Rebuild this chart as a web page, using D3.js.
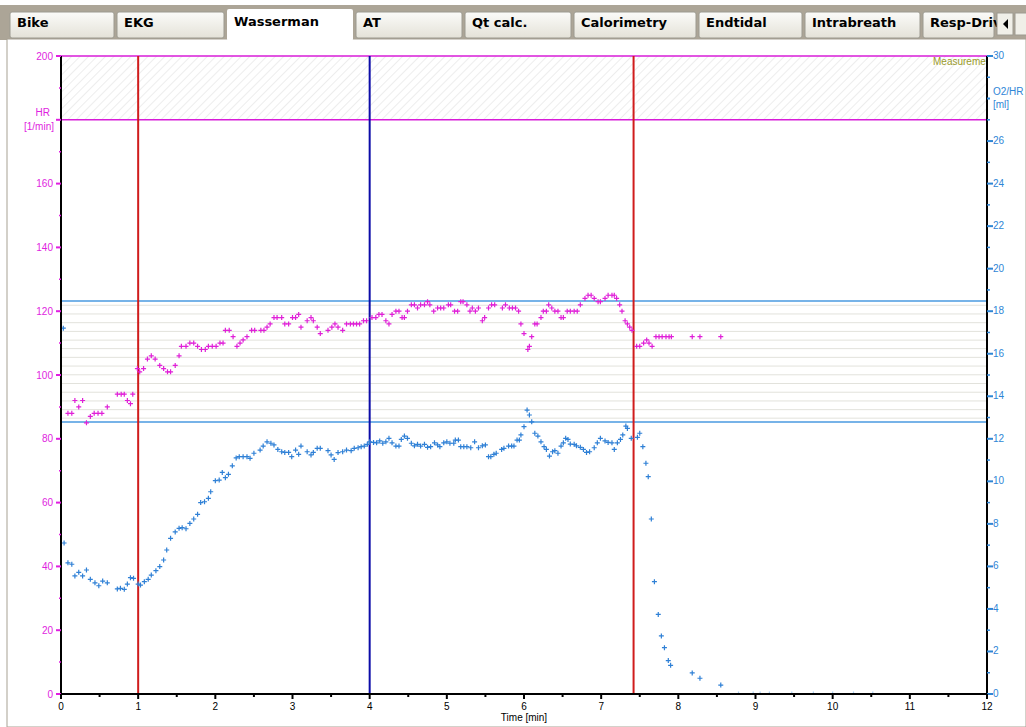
<!DOCTYPE html>
<html lang="en">
<head>
<meta charset="UTF-8">
<title>Wasserman</title>
<script src="https://d3js.org/d3.v7.min.js"></script>
<style>
    body { margin: 0; background: #fff; }
    svg text { font-family: "Liberation Sans", Arial, sans-serif; }
    .tab text { font-family: "DejaVu Sans", sans-serif; font-weight: bold; font-size: 13px; fill: #000; }
    .tick-l { fill: #e01ee0; font-size: 10px; }
    .tick-r { fill: #2f86d6; font-size: 10px; }
    .tick-b { fill: #000; font-size: 10px; }
</style>
</head>
<body>
<svg id="chart" width="1026" height="727"></svg>
<script>
// tabs of the program window
const tabNames = ["Bike", "EKG", "Wasserman", "AT", "Qt calc.", "Calorimetry", "Endtidal", "Intrabreath", "Resp-Driv"];
const tabEdges = [10, 117, 227, 356, 465, 574, 699, 805, 923, 997];
const activeTab = "Wasserman";

// heart rate [1/min] over time [min]
const hrTime = [0.09,0.14,0.18,0.23,0.28,0.33,0.38,0.43,0.48,0.53,0.60,0.73,0.78,0.82,0.86,0.90,0.93,0.99,1.02,1.07,1.12,1.17,1.22,1.28,1.33,1.38,1.42,1.48,1.53,1.56,1.62,1.67,1.72,1.77,1.82,1.87,1.91,1.96,2.01,2.06,2.10,2.13,2.18,2.23,2.28,2.32,2.36,2.41,2.47,2.51,2.59,2.63,2.67,2.71,2.76,2.80,2.86,2.90,2.95,3.00,3.04,3.08,3.11,3.19,3.24,3.27,3.32,3.36,3.46,3.51,3.55,3.59,3.65,3.70,3.75,3.79,3.83,3.87,3.92,3.96,4.03,4.08,4.12,4.16,4.21,4.25,4.29,4.34,4.38,4.42,4.45,4.49,4.54,4.58,4.62,4.66,4.71,4.75,4.78,4.83,4.88,4.92,4.96,5.02,5.05,5.10,5.14,5.18,5.21,5.26,5.30,5.33,5.37,5.41,5.46,5.49,5.54,5.58,5.62,5.72,5.76,5.81,5.85,5.89,5.93,5.96,6.00,6.05,6.07,6.10,6.14,6.17,6.22,6.25,6.29,6.32,6.36,6.40,6.44,6.48,6.51,6.56,6.60,6.65,6.69,6.73,6.79,6.83,6.87,6.91,6.96,6.99,7.05,7.09,7.14,7.17,7.20,7.24,7.27,7.31,7.34,7.37,7.40,7.46,7.50,7.55,7.59,7.62,7.66,7.71,7.75,7.79,7.84,7.88,7.91,8.18,8.28,8.55];
const hrValues = [88,88,92,90,92,85,87,88,88,88,90,94,94,94,92,91,94,102,101,102,105,106,105,103,102,101,101,103,106,109,109,110,110,109,108,108,109,109,109,110,110,114,114,112,109,110,111,112,114,114,114,114,115,116,118,118,118,116,116,118,118,119,115,117,118,117,115,113,114,115,116,115,114,116,116,116,116,116,117,117,118,118,119,119,117,116,119,120,120,118,118,120,122,122,121,122,122,123,122,120,121,121,121,122,122,120,120,123,123,122,120,121,120,121,117,118,121,122,122,121,122,121,121,121,120,116,113,108,109,112,116,116,118,120,120,122,121,120,120,118,118,120,120,120,120,122,124,125,125,124,123,123,124,125,125,125,124,122,120,117,116,115,114,109,109,110,111,110,109,112,112,112,112,112,112,112,112,112];

// oxygen pulse O2/HR [ml] over time [min]
const o2Time = [0.03,0.04,0.09,0.14,0.18,0.23,0.28,0.33,0.38,0.44,0.49,0.54,0.60,0.73,0.77,0.82,0.86,0.90,0.94,1.00,1.03,1.08,1.13,1.17,1.23,1.28,1.33,1.37,1.42,1.48,1.53,1.57,1.62,1.67,1.72,1.77,1.81,1.86,1.91,1.94,2.00,2.05,2.09,2.13,2.17,2.22,2.27,2.31,2.36,2.41,2.45,2.50,2.58,2.62,2.67,2.72,2.76,2.81,2.86,2.90,2.95,2.99,3.04,3.08,3.11,3.19,3.24,3.27,3.32,3.36,3.46,3.50,3.54,3.59,3.65,3.70,3.76,3.80,3.85,3.89,3.93,3.97,4.00,4.05,4.09,4.13,4.17,4.21,4.25,4.29,4.34,4.38,4.41,4.45,4.49,4.54,4.58,4.62,4.66,4.71,4.75,4.79,4.84,4.88,4.91,4.96,5.00,5.04,5.09,5.11,5.15,5.18,5.22,5.26,5.31,5.36,5.41,5.46,5.50,5.54,5.57,5.61,5.64,5.71,5.74,5.80,5.84,5.87,5.91,5.94,5.96,6.00,6.04,6.07,6.10,6.14,6.18,6.22,6.26,6.29,6.33,6.37,6.40,6.44,6.48,6.51,6.54,6.57,6.60,6.65,6.68,6.73,6.77,6.81,6.85,6.91,6.95,6.99,7.05,7.09,7.14,7.17,7.21,7.25,7.28,7.32,7.34,7.39,7.47,7.50,7.54,7.58,7.61,7.65,7.69,7.74,7.78,7.82,7.87,7.90,8.18,8.28,8.55,8.78,8.97,9.06,9.18,9.47,9.75,10.00,10.27,10.52];
const o2Values = [17.2,7.1,6.17,6.1,5.55,5.72,5.55,5.83,5.39,5.23,5.09,5.31,5.23,4.94,4.97,4.92,5.17,5.47,5.44,5.17,5.12,5.28,5.39,5.59,5.8,5.99,6.3,6.77,7.32,7.62,7.79,7.82,7.77,8.02,8.23,8.45,9.0,9.04,9.2,9.51,10.03,10.06,10.42,10.17,10.33,10.73,11.1,11.16,11.16,11.16,11.08,11.32,11.47,11.66,11.86,11.79,11.71,11.5,11.39,11.36,11.36,11.16,11.47,11.27,11.66,11.39,11.24,11.36,11.55,11.55,11.44,11.24,11.03,11.35,11.39,11.47,11.44,11.55,11.58,11.63,11.66,11.74,11.86,11.83,11.81,11.9,11.79,11.86,12.02,11.81,11.66,11.66,11.97,12.13,12.02,11.79,11.67,11.74,11.66,11.74,11.6,11.63,11.81,11.71,11.63,11.81,11.86,11.79,11.79,11.94,11.94,11.63,11.63,11.63,11.58,11.86,11.58,11.67,11.71,11.16,11.16,11.27,11.32,11.5,11.55,11.66,11.66,11.66,11.94,11.94,12.18,12.57,13.35,13.12,12.8,12.26,12.13,11.86,11.63,11.5,11.19,11.39,11.44,11.32,11.66,11.81,12.02,11.97,11.75,11.74,11.67,11.6,11.5,11.36,11.39,11.58,11.81,12.02,11.9,11.83,11.81,11.5,11.81,11.97,12.18,12.6,12.49,12.02,12.07,12.26,11.63,10.85,10.22,8.23,5.28,3.74,2.73,2.18,1.57,1.35,0.99,0.74,0.42,0,0,0,0,0,0,0,0,0];

// reference markers
const hrBandLevels = [180, 200];          // hatched "Measurement" band
const o2BandLevels = [12.79, 18.48];      // blue limit lines
const o2GridLevels = [18.28,17.87,17.46,17.05,16.64,16.24,15.83,15.42,15.01,14.60,14.19,13.78,13.37,12.97];
const phaseMarks = [{t: 1.0, color: "#d01c1c"}, {t: 4.0, color: "#0c0ca8"}, {t: 7.42, color: "#d01c1c"}];

const xTicks = d3.range(0, 12.01, 0.5);
const hrTicks = d3.range(0, 201, 10);
const o2Ticks = d3.range(0, 31, 1);

const svg = d3.select("#chart");

// window frame + tabs
svg.append("rect").attr("x", 0).attr("y", 5).attr("width", 1026).attr("height", 35).attr("fill", "#aca597");
svg.append("rect").attr("x", 7).attr("y", 39).attr("width", 1019).attr("height", 688)
    .attr("fill", "#fff").attr("stroke", "#a8a294");

const defs = svg.append("defs");
const grad = defs.append("linearGradient").attr("id", "tabGrad").attr("x1", 0).attr("y1", 0).attr("x2", 0).attr("y2", 1);
grad.append("stop").attr("offset", "0%").attr("stop-color", "#fbfbf9");
grad.append("stop").attr("offset", "100%").attr("stop-color", "#e4e2d8");

const tabs = svg.selectAll(".tab").data(tabNames).enter().append("g").attr("class", "tab");
tabs.append("rect")
    .attr("x", (d, i) => tabEdges[i])
    .attr("y", d => d === activeTab ? 9 : 12)
    .attr("width", (d, i) => tabEdges[i + 1] - tabEdges[i] - 3)
    .attr("height", d => d === activeTab ? 32 : 26)
    .attr("rx", 2)
    .attr("fill", d => d === activeTab ? "#fff" : "url(#tabGrad)")
    .attr("stroke", d => d === activeTab ? "none" : "#9c9a90");
tabs.append("text")
    .attr("x", (d, i) => tabEdges[i] + 7)
    .attr("y", d => d === activeTab ? 26 : 27)
    .text(d => d);
// scroll button
svg.append("rect").attr("x", 997).attr("y", 13).attr("width", 16).attr("height", 22)
    .attr("fill", "#f0efe8").attr("stroke", "#9c9a90");
svg.append("path").attr("d", "M1008,19 L1003,24 L1008,29 Z").attr("fill", "#000");
svg.append("rect").attr("x", 1015).attr("y", 13).attr("width", 14).attr("height", 22)
    .attr("fill", "#f0efe8").attr("stroke", "#9c9a90");

// scales
const x = d3.scaleLinear().domain([0, 12]).range([61, 987]);
const yHr = d3.scaleLinear().domain([0, 200]).range([694, 56]);
const yO2 = d3.scaleLinear().domain([0, 30]).range([694, 56]);

defs.append("clipPath").attr("id", "plotClip").append("rect")
    .attr("x", x(0)).attr("y", yHr(200) - 1).attr("width", x(12) - x(0)).attr("height", yHr(0) - yHr(200) + 2);
const hatch = defs.append("pattern").attr("id", "hatch").attr("patternUnits", "userSpaceOnUse")
    .attr("width", 6).attr("height", 6).attr("patternTransform", "rotate(45)");
hatch.append("line").attr("x1", 0).attr("y1", 0).attr("x2", 0).attr("y2", 6)
    .attr("stroke", "#dcdcdc").attr("stroke-width", 1);

const plot = svg.append("g").attr("clip-path", "url(#plotClip)");

// hatched band + its borders
plot.append("rect").attr("x", x(0)).attr("y", yHr(hrBandLevels[1]))
    .attr("width", x(12) - x(0)).attr("height", yHr(hrBandLevels[0]) - yHr(hrBandLevels[1]))
    .attr("fill", "url(#hatch)");
plot.selectAll(".hrband").data(hrBandLevels).enter().append("line")
    .attr("x1", x(0)).attr("x2", x(12)).attr("y1", d => yHr(d)).attr("y2", d => yHr(d))
    .attr("stroke", "#d81cd8").attr("stroke-width", 1.5);
plot.append("text").attr("x", 933).attr("y", 65).attr("fill", "#9a9a2a")
    .style("font-size", "10px").text("Measurement");

// O2 grid band
plot.selectAll(".o2grid").data(o2GridLevels).enter().append("line")
    .attr("x1", x(0)).attr("x2", x(12)).attr("y1", d => yO2(d)).attr("y2", d => yO2(d))
    .attr("stroke", "#e2e2dc").attr("stroke-width", 1);
plot.selectAll(".o2band").data(o2BandLevels).enter().append("line")
    .attr("x1", x(0)).attr("x2", x(12)).attr("y1", d => yO2(d)).attr("y2", d => yO2(d))
    .attr("stroke", "#4a9ae0").attr("stroke-width", 1.3);

// phase lines
plot.selectAll(".phase").data(phaseMarks).enter().append("line")
    .attr("x1", d => x(d.t)).attr("x2", d => x(d.t)).attr("y1", yHr(200)).attr("y2", yHr(0))
    .attr("stroke", d => d.color).attr("stroke-width", 2);

// data markers
const cross = "M-2.5,0H2.5M0,-2.5V2.5";
plot.selectAll(".hr").data(hrTime).enter().append("path")
    .attr("d", cross)
    .attr("transform", (t, i) => `translate(${x(t)},${yHr(hrValues[i])})`)
    .attr("stroke", "#e020d8").attr("stroke-width", 1.2).attr("fill", "none");
plot.selectAll(".o2").data(o2Time).enter().append("path")
    .attr("d", cross)
    .attr("transform", (t, i) => `translate(${x(t)},${yO2(o2Values[i])})`)
    .attr("stroke", d => d > 8.7 ? "#a8cdf0" : "#2f80d6").attr("stroke-width", 1.2).attr("fill", "none");

// axes lines
svg.append("line").attr("x1", x(0)).attr("x2", x(0)).attr("y1", yHr(200)).attr("y2", yHr(0) + 1)
    .attr("stroke", "#000").attr("stroke-width", 2);
svg.append("line").attr("x1", x(12)).attr("x2", x(12)).attr("y1", yHr(200)).attr("y2", yHr(0) + 1)
    .attr("stroke", "#000").attr("stroke-width", 2);
svg.append("line").attr("x1", x(0)).attr("x2", x(12)).attr("y1", yHr(0)).attr("y2", yHr(0))
    .attr("stroke", "#000").attr("stroke-width", 2);

// left axis (HR)
svg.selectAll(".ltick").data(hrTicks).enter().append("line")
    .attr("x1", d => d % 20 === 0 ? x(0) - 5 : x(0) - 2).attr("x2", x(0))
    .attr("y1", d => yHr(d)).attr("y2", d => yHr(d))
    .attr("stroke", "#e01ee0").attr("stroke-width", d => d % 20 === 0 ? 2 : 1.5);
svg.selectAll(".llab").data(hrTicks.filter(d => d % 20 === 0 && d !== 180)).enter().append("text")
    .attr("class", "tick-l").attr("x", x(0) - 8).attr("y", d => yHr(d)).attr("dy", "0.35em")
    .attr("text-anchor", "end").text(d => d);
svg.append("text").attr("class", "tick-l").attr("x", 50).attr("y", 116).attr("text-anchor", "end").text("HR");
svg.append("text").attr("class", "tick-l").attr("x", 54).attr("y", 130).attr("text-anchor", "end").text("[1/min]");

// right axis (O2/HR)
svg.selectAll(".rtick").data(o2Ticks).enter().append("line")
    .attr("x1", x(12)).attr("x2", d => d % 2 === 0 && d !== 28 ? x(12) + 6 : x(12) + 3)
    .attr("y1", d => yO2(d)).attr("y2", d => yO2(d))
    .attr("stroke", "#2f86d6").attr("stroke-width", d => d % 2 === 0 ? 2 : 1.5);
svg.selectAll(".rlab").data(o2Ticks.filter(d => d % 2 === 0 && d !== 28)).enter().append("text")
    .attr("class", "tick-r").attr("x", x(12) + 6).attr("y", d => yO2(d)).attr("dy", "0.3em")
    .text(d => d);
svg.append("text").attr("class", "tick-r").attr("x", 993).attr("y", 95).text("O2/HR");
svg.append("text").attr("class", "tick-r").attr("x", 993).attr("y", 108).text("[ml]");

// bottom axis (time)
svg.selectAll(".btick").data(xTicks).enter().append("line")
    .attr("x1", d => x(d)).attr("x2", d => x(d))
    .attr("y1", yHr(0)).attr("y2", d => Number.isInteger(d) ? yHr(0) + 5 : yHr(0) + 3)
    .attr("stroke", "#000").attr("stroke-width", 2);
svg.selectAll(".blab").data(xTicks.filter(Number.isInteger)).enter().append("text")
    .attr("class", "tick-b").attr("x", d => x(d)).attr("y", 710)
    .attr("text-anchor", "middle").text(d => d);
svg.append("text").attr("class", "tick-b").attr("x", (x(0) + x(12)) / 2).attr("y", 721)
    .attr("text-anchor", "middle").text("Time  [min]");
</script>
</body>
</html>
